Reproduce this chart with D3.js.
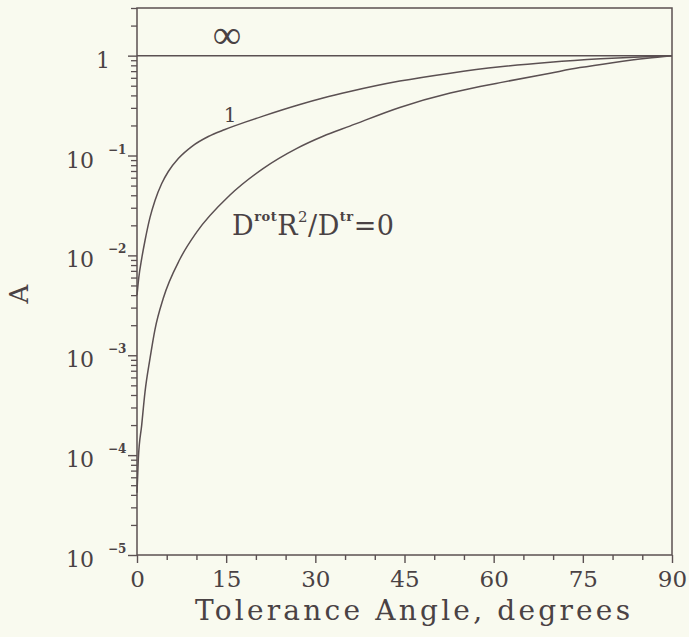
<!DOCTYPE html>
<html>
<head>
<meta charset="utf-8">
<script src="https://cdn.jsdelivr.net/npm/d3@7"></script>
<style>
  body { margin: 0; background: #f9faef; }
  svg { display: block; }
  text { font-family: "DejaVu Serif", "Liberation Serif", serif; fill: #4a4244; }
</style>
</head>
<body>
<svg id="chart" width="689" height="637"></svg>
<script>
// values
var angleOne = [0, 0.3, 0.79, 1.35, 2.19, 3.03, 4.16, 5.27, 6.95, 9.2, 12, 14.8, 18.2, 21.2, 27.4, 31.3, 35.8, 44.2, 52.7, 61.1, 69.5, 78, 85.7, 90];
var aOne     = [0.0040, 0.0060, 0.0093, 0.0141, 0.024, 0.0355, 0.0525, 0.0692, 0.0933, 0.123, 0.155, 0.182, 0.216, 0.248, 0.324, 0.376, 0.437, 0.556, 0.668, 0.773, 0.859, 0.929, 0.977, 1];

var angleZero = [0, 0.22, 0.79, 1.35, 2.19, 3.03, 4.42, 7.23, 10.04, 15.6, 21.2, 26.9, 31.3, 35.8, 44.2, 52.7, 57.7, 61.1, 69.5, 74.5, 80, 85.8, 90];
var aZero     = [0.000042, 0.000091, 0.0002, 0.00043, 0.00093, 0.00182, 0.00372, 0.0092, 0.0171, 0.040, 0.074, 0.118, 0.156, 0.197, 0.303, 0.422, 0.490, 0.537, 0.668, 0.759, 0.851, 0.944, 1];

var angleInf = [0, 90];
var aInf     = [1, 1];

var xTicks = [0, 15, 30, 45, 60, 75, 90];
var yTicks = [1, 1e-1, 1e-2, 1e-3, 1e-4, 1e-5];
var yTickExp = ["", "\u22121", "\u22122", "\u22123", "\u22124", "\u22125"];

var svg = d3.select("#chart"),
    margin = {top: 8, right: 17, bottom: 82, left: 137},
    width = +svg.attr("width") - margin.left - margin.right,
    height = +svg.attr("height") - margin.top - margin.bottom,
    g = svg.append("g").attr("transform", "translate(" + margin.left + "," + margin.top + ")");

var ink = "#5b5052";

var x = d3.scaleLinear().domain([0, 90]).range([0, width]);
var y = d3.scaleLog().domain([1e-5, 3]).range([height, 0]);

// minor ticks
var xMinor = d3.range(0, 91, 5).filter(function(d) { return d % 15 !== 0; });
var yMinor = [];
[-5, -4, -3, -2, -1, 0].forEach(function(e) {
  for (var k = 2; k <= 9; k++) {
    var v = k * Math.pow(10, e);
    if (v <= 3) yMinor.push(v);
  }
});

var xAxis = g.append("g")
    .attr("transform", "translate(0," + height + ")")
    .call(d3.axisBottom(x).tickValues(xMinor).tickSize(5).tickFormat(""));
xAxis.select(".domain").remove();
xAxis.selectAll("line").attr("stroke", ink).attr("stroke-width", 1.4);

var xMajor = g.append("g")
    .attr("transform", "translate(0," + height + ")")
    .call(d3.axisBottom(x).tickValues(xTicks).tickSize(8).tickPadding(8).tickFormat(d3.format("d")));
xMajor.select(".domain").remove();
xMajor.selectAll("line").attr("stroke", ink).attr("stroke-width", 1.4);
xMajor.selectAll("text")
    .attr("fill", "#4a4244")
    .style("font-size", "23px")
    .style("font-family", "'DejaVu Serif', serif");

var yAxis = g.append("g")
    .call(d3.axisLeft(y).tickValues(yMinor).tickSize(6).tickFormat(""));
yAxis.select(".domain").remove();
yAxis.selectAll("line").attr("stroke", ink).attr("stroke-width", 1.3);

var yMajor = g.append("g")
    .call(d3.axisLeft(y).tickValues(yTicks).tickSize(9).tickFormat(""));
yMajor.select(".domain").remove();
yMajor.selectAll("line").attr("stroke", ink).attr("stroke-width", 1.4);

// y tick labels: 10 with superscript exponent
var yLab = g.selectAll(".ylab")
  .data(yTicks)
  .enter().append("g")
    .attr("class", "ylab")
    .attr("transform", function(d) { return "translate(0," + y(d) + ")"; });

yLab.append("text")
    .attr("x", function(d, i) { return i === 0 ? -27 : -43; })
    .attr("y", 12)
    .attr("text-anchor", "end")
    .style("font-size", "22px")
    .text(function(d, i) { return i === 0 ? "1" : "10"; });

yLab.append("text")
    .attr("x", -29)
    .attr("y", -2)
    .attr("text-anchor", "start")
    .style("font-size", "12px")
    .style("font-weight", "bold")
    .text(function(d, i) { return yTickExp[i]; });

// frame
g.append("rect")
    .attr("width", width)
    .attr("height", height)
    .attr("fill", "none")
    .attr("stroke", ink)
    .attr("stroke-width", 1.5);

// curves
var series = [
  {angle: angleInf, a: aInf},
  {angle: angleOne, a: aOne},
  {angle: angleZero, a: aZero}
];

var line = d3.line()
    .x(function(d) { return x(d[0]); })
    .y(function(d) { return y(d[1]); })
    .curve(d3.curveMonotoneX);

g.selectAll(".curve")
  .data(series)
  .enter().append("path")
    .attr("class", "curve")
    .attr("fill", "none")
    .attr("stroke", ink)
    .attr("stroke-width", 1.5)
    .attr("d", function(s) { return line(s.angle.map(function(t, i) { return [t, s.a[i]]; })); });

// curve labels
svg.append("text")
    .attr("x", 227)
    .attr("y", 48)
    .attr("text-anchor", "middle")
    .style("font-family", "'Liberation Serif', serif")
    .style("font-size", "40px")
    .text("\u221E");

svg.append("text")
    .attr("x", 230)
    .attr("y", 122)
    .attr("text-anchor", "middle")
    .style("font-size", "20px")
    .text("1");

var lbl = svg.append("text")
    .attr("x", 232)
    .attr("y", 235)
    .style("font-size", "27px")
    .style("letter-spacing", "0.5px");
lbl.append("tspan").text("D");
lbl.append("tspan").attr("dy", -14).style("font-size", "13px").style("font-weight", "bold").text("rot");
lbl.append("tspan").attr("dy", 14).text("R");
lbl.append("tspan").attr("dy", -13).style("font-size", "15px").text("2");
lbl.append("tspan").attr("dy", 13).text("/D");
lbl.append("tspan").attr("dy", -14).style("font-size", "13px").style("font-weight", "bold").text("tr");
lbl.append("tspan").attr("dy", 14).text("=0");

// axis titles
svg.append("text")
    .attr("x", 195)
    .attr("y", 620)
    .attr("textLength", 435)
    .attr("lengthAdjust", "spacing")
    .style("font-size", "28px")
    .text("Tolerance Angle, degrees");

svg.append("text")
    .attr("transform", "translate(28,294) rotate(-90)")
    .attr("text-anchor", "middle")
    .style("font-size", "26px")
    .text("A");
</script>
</body>
</html>
